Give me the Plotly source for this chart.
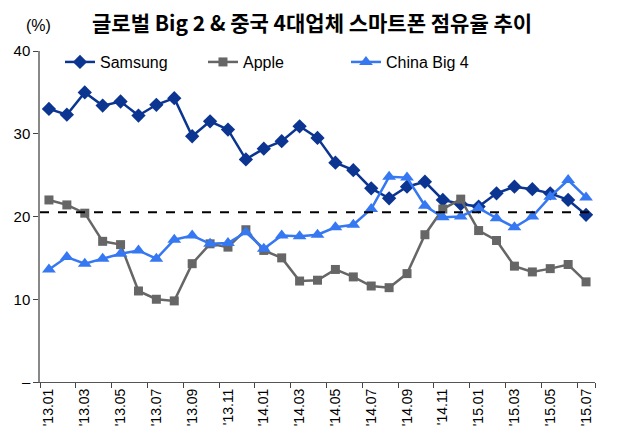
import plotly.graph_objects as go

months = ["'13.01", "'13.02", "'13.03", "'13.04", "'13.05", "'13.06", "'13.07", "'13.08",
          "'13.09", "'13.10", "'13.11", "'13.12", "'14.01", "'14.02", "'14.03", "'14.04",
          "'14.05", "'14.06", "'14.07", "'14.08", "'14.09", "'14.10", "'14.11", "'14.12",
          "'15.01", "'15.02", "'15.03", "'15.04", "'15.05", "'15.06", "'15.07"]

samsung = [33.0, 32.3, 35.0, 33.4, 33.9, 32.2, 33.5, 34.3, 29.7, 31.5, 30.5, 26.9, 28.2, 29.1,
           30.9, 29.5, 26.5, 25.6, 23.4, 22.2, 23.6, 24.2, 22.0, 21.5, 21.2, 22.8, 23.6, 23.3,
           22.8, 22.0, 20.2]
apple = [22.0, 21.4, 20.4, 17.0, 16.6, 11.0, 10.0, 9.8, 14.3, 16.7, 16.3, 18.4, 15.9, 15.0,
         12.2, 12.3, 13.6, 12.7, 11.6, 11.4, 13.1, 17.8, 20.9, 22.1, 18.3, 17.1, 14.0, 13.3,
         13.7, 14.2, 12.1]
china4 = [13.6, 15.1, 14.3, 14.9, 15.5, 15.9, 14.9, 17.2, 17.7, 16.7, 16.8, 18.1, 16.1, 17.7,
          17.6, 17.8, 18.7, 19.0, 20.9, 24.8, 24.7, 21.3, 19.9, 20.0, 21.0, 19.8, 18.7, 20.0,
          22.4, 24.4, 22.3]
ref_level = 20.5

fig = go.Figure()
fig.add_trace(go.Scatter(x=months, y=samsung, name="Samsung", mode="lines+markers",
                         line=dict(color="#0B3590", width=2.5),
                         marker=dict(symbol="diamond", size=11, color="#0B3590")))
fig.add_trace(go.Scatter(x=months, y=apple, name="Apple", mode="lines+markers",
                         line=dict(color="#666666", width=2.5),
                         marker=dict(symbol="square", size=9, color="#666666")))
fig.add_trace(go.Scatter(x=months, y=china4, name="China Big 4", mode="lines+markers",
                         line=dict(color="#3677F2", width=2.5),
                         marker=dict(symbol="triangle-up", size=12, color="#3677F2")))

# dashed reference line across the plot
fig.add_shape(type="line", xref="paper", x0=0, x1=1, yref="y", y0=ref_level, y1=ref_level,
              line=dict(color="black", width=2, dash="dash"))

fig.update_layout(
    width=618, height=447,
    margin=dict(l=40, r=23, t=51, b=65),
    paper_bgcolor="white", plot_bgcolor="white",
    font=dict(family="Liberation Sans, Arial", size=13, color="black"),
    title=dict(text="<b>글로벌 Big 2 & 중국 4대업체 스마트폰 점유율 추이</b>",
               x=0.505, xanchor="center", y=0.948, yanchor="middle",
               font=dict(family="Noto Sans CJK KR", size=21, color="black")),
    legend=dict(orientation="h", x=0.036, y=1.018, xanchor="left", yanchor="top",
                font=dict(size=16), bgcolor="rgba(0,0,0,0)", entrywidth=98),
    showlegend=True,
)
fig.add_annotation(text="(%)", xref="paper", yref="paper", x=-0.002, y=1.078,
                   xanchor="center", yanchor="middle", showarrow=False,
                   font=dict(size=16, color="black"))

fig.update_xaxes(type="category", tickmode="array", tickvals=months[::2], ticktext=months[::2],
                 tickangle=-90, tickson="boundaries", ticks="outside", ticklen=5,
                 showline=True, linecolor="#555555", linewidth=1, showgrid=False,
                 range=[-0.5, 30.5], tickfont=dict(size=14), automargin=False)
fig.update_yaxes(range=[0, 40], tickmode="array", tickvals=[0, 10, 20, 30, 40],
                 ticktext=["–", "10", "20", "30", "40"], ticks="outside", ticklen=5,
                 showline=True, linecolor="#888888", linewidth=1.5, showgrid=False,
                 zeroline=False, tickfont=dict(size=15), automargin=False)

fig.write_html("out.html", config={"displayModeBar": False},
               post_script="document.body.style.margin='0';")
